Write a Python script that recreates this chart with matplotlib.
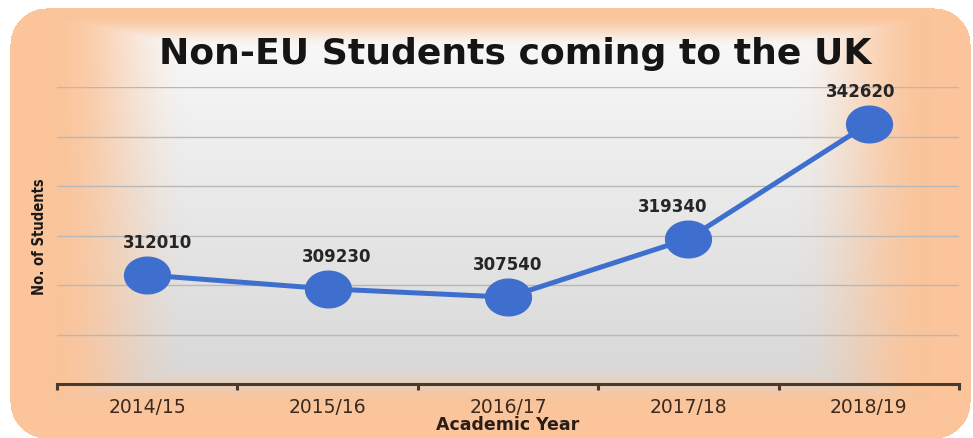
import numpy as np
import matplotlib
matplotlib.use("Agg")
import matplotlib.pyplot as plt
from matplotlib.path import Path

# ---- data ----
years = ["2014/15", "2015/16", "2016/17", "2017/18", "2018/19"]
students = [312010, 309230, 307540, 319340, 342620]
title = "Non-EU Students coming to the UK"
xlabel = "Academic Year"
ylabel = "No. of Students"

W, H = 973, 438
fig = plt.figure(figsize=(W / 100, H / 100), dpi=100)


def smooth(a, lo, hi):
    t = np.clip((a - lo) / (hi - lo), 0, 1)
    return t * t * (3 - 2 * t)


# ---- background card with gradient ----
bg = fig.add_axes([0, 0, 1, 1], zorder=0)
bg.set_axis_off()
yy, xx = np.mgrid[0:H, 0:W].astype(float)
x0, x1, y0, y1 = 10, 970, 8, 438
u = (xx - x0) / (x1 - x0)
th = smooth(np.abs(2 * u - 1), 0.62, 0.92)
t_top = smooth(-yy, -48, -14)
t_bot = smooth(yy, 365, 405)
t = np.maximum(th, np.maximum(t_top, t_bot))
orange = np.array([251, 196, 154]) / 255
top_c = np.array([248, 248, 248]) / 255
bot_c = np.array([214, 214, 214]) / 255
vv = np.clip((yy - 40) / 360, 0, 1)[..., None]
inner = top_c * (1 - vv) + bot_c * vv
img = inner * (1 - t[..., None]) + orange * t[..., None]
r = 36
cx = np.clip(xx, x0 + r, x1 - r)
cy = np.clip(yy, y0 + r, y1 - r)
inside = ((xx - cx) ** 2 + (yy - cy) ** 2 <= r * r) & (xx >= x0) & (xx <= x1) & (yy >= y0) & (yy <= y1)
rgba = np.ones((H, W, 4))
rgba[..., :3] = np.where(inside[..., None], img, 1.0)
bg.imshow(rgba, extent=[0, W, H, 0], aspect="auto", interpolation="bilinear")
bg.set_xlim(0, W)
bg.set_ylim(H, 0)

# ---- main axes ----
left, right, top, bottom = 57, 959, 87, 384
ax = fig.add_axes([left / W, 1 - bottom / H, (right - left) / W, (bottom - top) / H], zorder=1)
ax.set_facecolor("none")

xs = np.arange(len(years))
blue = "#3f6fce"
theta = np.linspace(0, 2 * np.pi, 60)
ell = Path(np.column_stack([1.25 * np.cos(theta), np.sin(theta)]), closed=True)
ax.plot(xs, students, color=blue, lw=3.6, marker=ell, markersize=33,
        markerfacecolor=blue, markeredgecolor=blue, zorder=3, solid_capstyle="round")

label_dx = [10, 9, 0, -16, -8]
for i, val in enumerate(students):
    ax.annotate(str(val), (xs[i], val), xytext=(label_dx[i] * 0.72, 23),
                textcoords="offset points", ha="center", va="center",
                fontsize=12, fontweight="bold", color="#262626",
                family="DejaVu Sans", zorder=4)

ax.set_xlim(-0.5, len(years) - 0.5)
ax.set_ylim(290000, 350000)
ax.set_yticks(np.arange(300000, 350001, 10000))
ax.yaxis.grid(True, color="#b8b8b8", lw=1.0)
ax.set_axisbelow(True)
ax.tick_params(axis="y", left=False, labelleft=False)
for s in ["left", "right", "top"]:
    ax.spines[s].set_visible(False)
ax.spines["bottom"].set_color("#4a3a2e")
ax.spines["bottom"].set_linewidth(2.2)

ax.set_xticks(xs)
ax.set_xticklabels(years, fontsize=13.5, color="#3a2a20", family="DejaVu Sans")
ax.tick_params(axis="x", which="major", length=0, pad=10)
ax.set_xticks(np.arange(-0.5, len(years)), minor=True)
ax.tick_params(axis="x", which="minor", length=4, width=2.2, color="#4a3a2e", direction="out")

ax.set_xlabel(xlabel, fontsize=12.5, fontweight="bold", color="#2a1f18",
              family="DejaVu Sans", labelpad=-1)

fig.text(40 / W, 1 - 237 / H, ylabel, rotation=90, ha="center", va="center",
         fontsize=10.5, fontweight="bold", color="#1a1a1a",
         family="DejaVu Sans", fontstretch="condensed")

fig.text(515 / W, 1 - 54 / H, title, ha="center", va="center",
         fontsize=26, fontweight="bold", color="#151515", family="DejaVu Sans")

fig.savefig("out.png", dpi=100)
